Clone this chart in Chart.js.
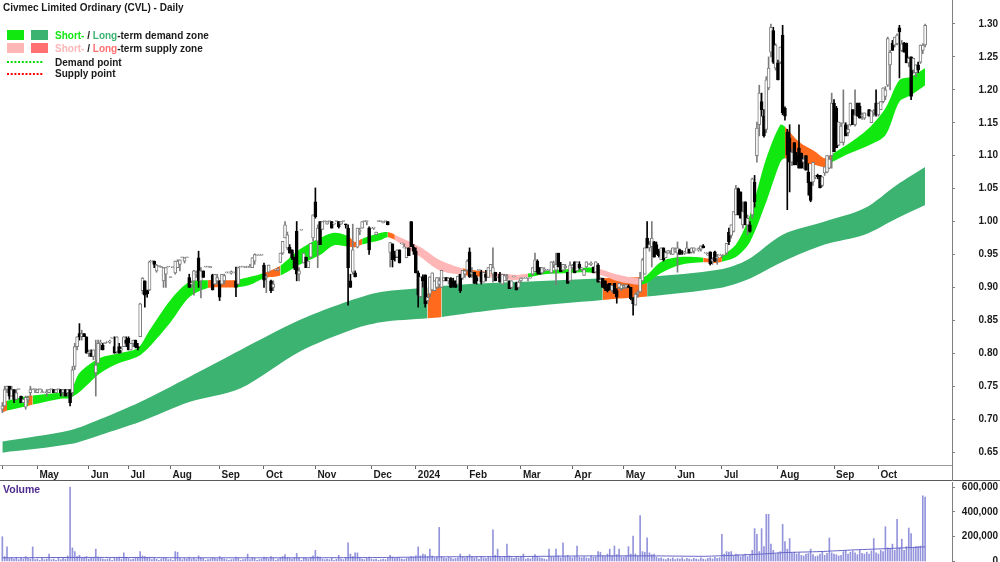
<!DOCTYPE html>
<html>
<head>
<meta charset="utf-8">
<script src="https://cdn.jsdelivr.net/npm/chart.js@4.4.1/dist/chart.umd.min.js"></script>
<style>
  html, body { margin: 0; padding: 0; background: #fff; overflow: hidden; }
  #wrap { position: relative; width: 1000px; height: 562px; }
  #price { position: absolute; left: 0; top: 0; }
  #vol { position: absolute; left: 0; top: 481px; }
</style>
</head>
<body>
<div id="wrap">
  <canvas id="price" width="1000" height="481"></canvas>
  <canvas id="vol" width="1000" height="81"></canvas>
</div>
<script>
// daily bars, prices in cents, one entry per trading day (Apr 2023 - Oct 2024)
var opens = [
  71.5, 72, 74.5, 75, 73.5, 74.5, 73, 74.5, 73.5, 72.5,
  71.8, 73, 74, 74.5, 74.5, 74, 74.5, 74, 74, 74,
  74, 74.5, 74.5, 74, 74.5, 74.5, 74, 74.5, 74, 74.5,
  74, 78, 81, 83, 82.5, 83, 82.5, 80, 80, 79.5,
  77, 78.5, 81.5, 81.2, 81.5, 81.7, 81.7, 82.3, 81, 80.2,
  81, 80.5, 81, 82, 82.3, 80.5, 81.5, 82, 81, 82.5,
  89.5, 91, 89.5, 89.6, 94, 94, 92.5, 93.2, 93, 91,
  92, 93.1, 91.5, 93, 92.2, 93, 93.5, 94.5, 94, 94.5,
  91.5, 90.5, 91, 92, 94.5, 91, 92.5, 93.1, 93.1, 93,
  91.9, 90.5, 91, 91, 90.5, 91, 92.2, 92.2, 92.2, 92.2,
  91, 90.5, 93.1, 93.1, 93, 93.1, 93, 93, 94, 94.9,
  94.9, 94.9, 93.4, 91.5, 92.3, 91, 90, 92.6, 92.6, 93.8,
  95.2, 97.5, 96, 96.1, 95.7, 94.6, 98.5, 92, 98.7, 93.7,
  94.6, 93, 94.6, 97.5, 103, 97, 100, 98.8, 100, 99.6,
  100, 100, 99.6, 100, 100, 99.6, 100, 99.6, 99, 91,
  92.3, 92.2, 96.1, 98.5, 99, 100, 100, 99, 99, 99,
  98, 100, 100, 99.8, 100, 100, 95.3, 96.6, 95, 94.6,
  95.7, 96.6, 96, 94.5, 96, 100, 96.1, 95.5, 92.2, 88.6,
  91.6, 91.9, 88, 89, 89.6, 89.5, 90, 90.5, 90, 91,
  91.5, 91, 91.4, 91, 91, 90.5, 92, 91.4, 92, 92.6,
  95.4, 92, 92.3, 91.5, 92.6, 92.3, 90.8, 92, 91.5, 92.5,
  92, 92.3, 91.5, 92, 90.5, 91, 91.5, 91, 90, 91.6,
  90.6, 90, 91, 91.4, 91.4, 91.4, 91.4, 92, 92.4, 94,
  93, 92.2, 92.6, 92.6, 92.6, 92.2, 93.5, 92.6, 95.2, 93.5,
  92.6, 93, 92.3, 91, 93, 93.9, 92.5, 93.5, 92.8, 91.8,
  93.1, 93.5, 93.5, 93.1, 92.3, 93.4, 91, 91.4, 91, 90,
  90.6, 89.5, 90.6, 89.5, 90, 89.8, 90, 90, 90.2, 90,
  88.3, 87.3, 89, 89.3, 91, 92, 97.5, 96, 96.2, 96.9,
  96.5, 95.5, 94.2, 96, 94.5, 95.2, 95.3, 95, 95.5, 95.2,
  95.7, 95.4, 95.2, 95.2, 95.8, 95.3, 95.5, 95.7, 95.7, 95.8,
  96.3, 95.2, 94.9, 95.4, 94, 95.4, 94.5, 94.9, 94.9, 94.9,
  95.2, 98.4, 97.9, 98.5, 101, 105, 104.5, 99.5, 103, 99.5,
  99.5, 101, 106, 110, 114.7, 118.2, 116, 114, 120.3, 125.7,
  129, 123.3, 124.1, 124.2, 128.3, 117.2, 113.6, 112.7, 109, 112,
  110, 111.2, 110.4, 109, 110, 107.5, 106, 106, 106.8, 107,
  107, 105.5, 107.4, 107.5, 108.1, 110, 118, 117.2, 111.6, 112,
  112, 114.7, 113.5, 114.7, 117, 114.7, 118, 117.5, 116, 115.7,
  116.2, 117, 115, 116.5, 118, 116.2, 117, 118.2, 119, 120.7,
  123.8, 127.1, 126.8, 127, 129.4, 126, 127.1, 127.1, 124.1, 125,
  123, 122.6, 123.8, 124.2, 126, 126.8
];
var highs = [
  72.5, 75, 75, 75, 75, 74.5, 74.5, 74.5, 73.5, 73,
  73.5, 73.5, 75, 74.5, 74.5, 74.5, 74.5, 74.5, 74, 74.5,
  74.5, 74.5, 74.5, 74.5, 74.5, 74.5, 74.5, 74.5, 74.5, 74.5,
  78, 81.5, 82.5, 84.5, 83.5, 83, 82.5, 80.5, 80.5, 80.5,
  82, 82, 82, 81.5, 81.5, 81.7, 82, 82.3, 82.5, 82.5,
  81.5, 81, 82.5, 82.5, 82.5, 81.5, 82, 82, 81.5, 87.6,
  91.5, 91, 89.6, 94, 94, 94, 93.5, 93.2, 93.2, 93,
  93, 93.1, 91.5, 93, 94, 94.2, 94.2, 94.5, 94.5, 94.5,
  92, 91, 92.6, 92.5, 95.5, 93, 92.5, 93.1, 93.1, 93.2,
  92, 92, 92, 91, 92, 92, 92.2, 92.2, 92.5, 92.2,
  93.1, 93.1, 93.1, 93.1, 93.1, 93.1, 93.5, 94.5, 95.1, 94.9,
  94.9, 95, 93.7, 92, 93.4, 91.1, 91, 92.6, 93, 95.2,
  97, 100, 98.4, 96.5, 95.7, 94.6, 100, 93, 98.7, 95.2,
  94.6, 94, 96.7, 101, 105.1, 99.5, 100, 100, 100, 100,
  100, 100, 99.6, 100, 100, 100, 100, 99.6, 99.5, 92,
  99.6, 92.5, 99, 99, 100, 100, 100, 99.2, 99, 99,
  98.4, 100, 100, 100, 100, 100, 96.8, 96.6, 95.5, 95.7,
  95.7, 96.6, 96.6, 96, 96, 100, 96.5, 96, 92.5, 91.6,
  91.9, 91.9, 89, 91.6, 92.2, 91, 91.5, 91.5, 92.6, 91.5,
  91.5, 91.5, 91.5, 91.4, 91, 91.7, 92, 92.6, 92.6, 94.2,
  96, 93, 92.3, 91.8, 92.6, 92.6, 92.3, 92.6, 93, 93.5,
  96, 92.3, 91.5, 92.3, 92, 92, 92, 91, 91, 91.6,
  90.8, 91, 91.4, 91.4, 91.4, 91.5, 91.4, 93, 95.2, 94.2,
  93, 93, 93, 92.6, 92.6, 93.9, 94, 95.2, 95.2, 93.8,
  93.5, 93.5, 92.3, 93.9, 93.5, 93.9, 93.9, 93.9, 93, 92.7,
  93.9, 93.5, 93.9, 93.1, 93.9, 93.6, 91.5, 91.4, 91, 90.5,
  90.6, 90.3, 90.6, 89.8, 90.6, 90.4, 90.5, 90.4, 90.4, 90,
  88.5, 89.1, 89.5, 92.3, 94.4, 96, 100, 97, 100, 97,
  96.9, 95.8, 96, 96, 95.5, 95.6, 95.6, 96, 96, 96.9,
  95.8, 95.6, 95.5, 96.9, 95.8, 96, 96, 95.7, 96, 96.3,
  96.5, 95.2, 95.2, 95.4, 94.5, 95.5, 95, 94.9, 95, 94.9,
  96.7, 99, 99.5, 101.5, 105.5, 105.1, 104.5, 103, 103, 101,
  100, 106.6, 107, 115.1, 120.7, 119.5, 117, 122, 125, 130,
  129.5, 127, 124.5, 126.5, 129.8, 117.4, 114, 114.7, 111, 112,
  110.5, 114.7, 110.4, 110, 110, 108.8, 106, 109, 107, 107.2,
  107, 106.8, 108.3, 110, 110, 119.5, 118.5, 117.5, 115.1, 115,
  120, 115, 114.7, 118, 117, 120, 118, 118, 116.5, 116.5,
  116.2, 117, 116.8, 117, 120, 118, 118.2, 120.3, 120.5, 128,
  126, 127.5, 128, 128.5, 129.8, 127.5, 127.2, 127.1, 125, 125,
  124.8, 123.8, 124.2, 126.8, 127, 130
];
var lows = [
  71, 72, 74, 73, 73.5, 72.5, 73, 74.5, 72.5, 72.5,
  71.5, 72.5, 73.5, 74.5, 74, 74, 74.5, 74, 74, 73.5,
  74, 74.5, 74, 74, 74.5, 73.5, 73.5, 73.5, 73.5, 72,
  73.5, 77.5, 80.5, 82, 82, 82.5, 80, 79.5, 79.5, 79,
  73.5, 78.5, 80.5, 80.5, 81.5, 81.7, 81.5, 82.3, 80, 80,
  80, 80, 81, 81, 80.5, 80.5, 81, 80.8, 80.5, 82.5,
  89, 87, 88.5, 89.5, 94, 93, 92.3, 93.2, 93, 90,
  90, 93.1, 91.5, 93, 92, 93, 92.5, 94.5, 93.7, 94.5,
  90, 90, 88.8, 91.5, 90, 88.4, 91.5, 93.1, 93.1, 93,
  89.6, 90.5, 90.5, 88, 90.5, 90.5, 92.2, 92.2, 92, 92.2,
  88.6, 90.4, 93.1, 93.1, 93, 93.1, 93, 93, 93.5, 94.9,
  94.9, 94.9, 90, 89.2, 92.3, 89.2, 89.5, 92.6, 92.5, 93.8,
  95, 97.5, 95.7, 95.2, 94.2, 92.7, 91, 91, 98.7, 93.7,
  93, 93, 94.5, 97, 100.5, 93, 96.5, 98.8, 100, 99.6,
  100, 99, 99.6, 100, 99, 99.6, 100, 99, 87.3, 90,
  92, 91.6, 96, 98, 99, 100, 99.5, 95, 99, 98.8,
  98, 100, 100, 99.8, 100, 99.5, 93.1, 93.1, 94, 94.5,
  93.7, 96.6, 96, 94.5, 94.8, 96.2, 95, 92.2, 87, 88.5,
  90, 87, 87.5, 88.5, 89.5, 89.5, 89.8, 90, 90, 91,
  91, 90.5, 90, 90, 90, 90.5, 89.2, 91.2, 91.5, 92.5,
  91.5, 91.5, 90.6, 90.5, 92.6, 90.5, 90.8, 91, 91.5, 92.5,
  90.8, 91, 91.5, 90.8, 90.5, 91, 91, 89.8, 89.8, 91.6,
  89.6, 89.8, 90.8, 91.4, 91.4, 91, 91.4, 91.8, 92.4, 92,
  92, 92, 92.4, 92.6, 92.6, 92.2, 93, 90.4, 93.1, 92.4,
  92.5, 92.8, 90.6, 91, 92.8, 92.2, 92.5, 92.8, 92.5, 91.8,
  93, 93.5, 93.3, 92.2, 92.3, 90.8, 90.5, 90, 89.5, 89.3,
  89.6, 89.3, 89.1, 87.6, 89.8, 89.5, 89.8, 89.8, 90, 88.1,
  85.8, 87.3, 88.5, 89.3, 91, 92, 96, 95.5, 93.1, 94.6,
  95, 94.6, 94.2, 94, 94.5, 95.2, 95, 95, 95.3, 92.3,
  95, 95, 95, 95.2, 95.2, 95.2, 95.2, 95.7, 95.5, 95.5,
  96, 95.2, 94.9, 93.4, 93.5, 93.9, 93.5, 94.9, 94.5, 94.9,
  95, 96.5, 97.5, 98.4, 101, 101, 100.5, 99, 99.5, 98,
  98.4, 100.5, 102.2, 109, 113, 116, 112.8, 113.5, 120, 125,
  124, 123, 121.5, 124, 116.2, 115.4, 101.8, 104.5, 108.5, 108.6,
  108.6, 108.1, 108.1, 108, 107.8, 104, 103, 105.5, 106.5, 106.5,
  105.1, 105.3, 107, 107.4, 108, 108.1, 110.6, 111.2, 111.5, 112,
  111.6, 113, 113, 114.5, 114.7, 114.5, 116, 115.7, 115.5, 115.5,
  116.2, 116, 115, 116, 116, 116, 117, 118, 118.5, 120.5,
  120, 126, 126.5, 126.8, 121.8, 125.8, 125.7, 124.1, 123.5, 118.5,
  122.5, 122, 122.6, 124, 125.5, 126.5
];
var closes = [
  72, 74.5, 75, 73.5, 74.5, 73, 74, 74.5, 72.5, 73,
  73.3, 73, 74.5, 74.5, 74.5, 74.5, 74.5, 74, 74, 74,
  74.5, 74.5, 74, 74.5, 74.5, 74, 74.5, 73.5, 74.5, 72.5,
  77.5, 81, 82.5, 82.5, 83, 82.5, 80, 80, 79.5, 80.5,
  78.2, 81.5, 81.5, 80.5, 81.5, 81.7, 81.7, 82.3, 80, 82.5,
  80, 80.5, 82.5, 81.5, 80.5, 81.5, 82, 81, 80.8, 87.5,
  91.4, 88.8, 89, 93.9, 94, 93.5, 93.4, 93.2, 93, 93,
  93, 93.1, 91.5, 93, 94, 94, 94.2, 94.5, 94.5, 94.5,
  90, 90.5, 92.5, 92, 91, 92.5, 91.5, 93.1, 93.1, 93,
  89.6, 92, 91.5, 88.5, 92, 91.8, 92.2, 92.2, 92.2, 92.2,
  90, 93, 93.1, 93.1, 93.1, 93.1, 93.1, 94.5, 95, 94.9,
  94.9, 94.9, 91.1, 91.5, 93.4, 89.5, 90.5, 92.6, 92.6, 95.2,
  97, 99.5, 98, 95.2, 94.5, 93, 92, 92.5, 98.7, 95.2,
  93, 94, 96.7, 101, 100.7, 99, 96.5, 100, 100, 100,
  100, 99, 99.6, 100, 99.2, 100, 100, 99.5, 93, 90,
  95.7, 91.6, 99, 98.5, 100, 100, 100, 95.7, 99, 99,
  98.4, 100, 100, 100, 100, 99.5, 96.8, 94.2, 94.5, 95.7,
  93.7, 96.6, 96, 96, 94.8, 96.2, 95.5, 92.2, 88.8, 91.6,
  91, 87.5, 88.5, 91.6, 92.2, 91, 91.5, 91, 92.6, 91.5,
  91, 91.4, 90, 90.2, 90, 91.7, 89.5, 92.6, 92.5, 94,
  91.6, 92.3, 90.6, 91, 92.6, 90.8, 92.3, 91.5, 93, 93.5,
  93, 91, 91.5, 90.8, 92, 91.8, 91.5, 89.8, 91, 91.6,
  89.6, 90.8, 91.4, 91.4, 91.4, 91.4, 91.4, 93, 94.2, 92.3,
  92, 93, 92.6, 92.6, 92.6, 93.9, 93.5, 93.5, 93.1, 92.4,
  93.5, 93.2, 90.6, 93.4, 93.3, 92.2, 93.9, 93, 92.8, 92.7,
  93.9, 93.5, 93.6, 92.2, 93.9, 90.8, 91, 90, 89.8, 89.5,
  89.6, 90.3, 89.1, 88.5, 90.6, 90.4, 90.2, 90.4, 90, 88.3,
  87.5, 89, 89.3, 91.4, 94.2, 96, 96, 96.5, 97.5, 94.6,
  95.2, 94.8, 96, 94.2, 95.3, 95.6, 95.4, 96, 95.8, 96,
  95, 95.2, 95.3, 96, 95.2, 96, 96, 95.7, 95.8, 96.3,
  96, 95.2, 95, 93.6, 94.3, 94, 94.5, 94.9, 94.9, 94.9,
  96.7, 96.9, 99.5, 101.5, 105, 101, 100.5, 101.5, 99.5, 100.5,
  98.5, 106.5, 103, 114.2, 119.5, 117, 113, 121.5, 123.3, 129.5,
  124.2, 126.8, 121.5, 126.5, 116.5, 116, 110.1, 109, 110.5, 108.6,
  109, 108.1, 108.1, 109.5, 107.8, 105.9, 103.2, 109, 106.8, 106.8,
  105.1, 106.8, 108.3, 110, 109.5, 118, 110.6, 111.2, 115.1, 114.5,
  115, 113, 114, 118, 114.7, 116.2, 116, 115.7, 116.2, 116.5,
  116.2, 116, 116.8, 116.8, 116.2, 118, 118.2, 120.3, 120, 127.8,
  125.7, 126, 128, 128.3, 128.8, 127, 125.7, 124.1, 124.8, 119,
  124.8, 123.8, 123, 126.8, 126.8, 129.8
];
// volume in thousands of shares
var volumes = [
  200, 40, 118, 25, 30, 20, 35, 15, 30, 20,
  40, 25, 20, 118, 15, 20, 10, 25, 15, 20,
  60, 15, 20, 10, 25, 15, 30, 20, 45, 600,
  110, 80, 40, 50, 30, 25, 40, 20, 30, 25,
  100, 35, 30, 20, 15, 20, 25, 10, 30, 25,
  35, 20, 70, 30, 25, 15, 20, 35, 25, 80,
  45, 40, 30, 35, 15, 25, 20, 10, 20, 30,
  25, 15, 20, 10, 80, 75, 30, 15, 25, 20,
  35, 20, 30, 15, 45, 30, 25, 10, 15, 20,
  30, 25, 20, 40, 25, 20, 15, 10, 15, 20,
  35, 25, 10, 15, 20, 60, 15, 30, 25, 10,
  15, 20, 35, 30, 20, 40, 25, 10, 20, 30,
  40, 55, 30, 25, 20, 30, 65, 25, 10, 30,
  25, 20, 35, 45, 90, 40, 35, 20, 15, 20,
  15, 25, 10, 20, 50, 20, 15, 30, 150, 60,
  40, 70, 70, 30, 20, 15, 25, 35, 20, 15,
  20, 10, 15, 20, 15, 25, 50, 35, 25, 30,
  30, 20, 15, 25, 30, 40, 35, 45, 118, 45,
  60, 55, 40, 100, 45, 30, 35, 275, 40, 30,
  25, 35, 30, 20, 25, 30, 60, 35, 30, 40,
  55, 40, 30, 35, 20, 40, 30, 25, 35, 30,
  255, 50, 100, 40, 30, 35, 140, 45, 30, 25,
  40, 30, 35, 60, 20, 25, 20, 35, 55, 40,
  30, 25, 20, 15, 100, 40, 35, 100, 45, 30,
  150, 40, 50, 35, 30, 40, 125, 35, 30, 40,
  30, 25, 45, 35, 40, 80, 75, 45, 40, 60,
  100, 45, 125, 55, 100, 40, 35, 45, 120, 60,
  205, 60, 45, 370, 80, 75, 190, 70, 55, 60,
  35, 25, 30, 20, 15, 25, 20, 30, 15, 25,
  20, 30, 15, 25, 20, 15, 25, 20, 15, 30,
  20, 15, 25, 30, 20, 35, 25, 30, 220, 60,
  80, 75, 80, 45, 60, 55, 40, 50, 60, 40,
  55, 90, 265, 220, 80, 265, 120, 380, 380, 140,
  90, 60, 70, 80, 300, 160, 100, 185, 70, 75,
  60, 70, 50, 45, 60, 65, 100, 55, 40, 45,
  60, 80, 50, 65, 190, 70, 60, 55, 45, 50,
  80, 90, 60, 75, 85, 70, 55, 90, 65, 60,
  75, 60, 85, 185, 70, 60, 90, 80, 280, 110,
  100, 140, 90, 340, 110, 180, 90, 120, 270, 225,
  110, 120, 120, 125, 530, 520
];

// volume moving average, read at a few bars (thousands)
var volAvgBars = [0, 40, 80, 120, 160, 190, 220, 250, 280, 300, 310, 325, 335, 350, 365, 380, 395];
var volAvg = [30, 33, 30, 30, 32, 38, 40, 45, 45, 42, 48, 60, 72, 80, 94, 105, 118];

// month boundaries (bar number) and their labels
var monthBars = [0, 15, 37, 54, 72, 93, 112, 134, 158, 177, 199, 222, 244, 266, 288, 308, 332, 356, 375];
var monthNames = ['', 'May', 'Jun', 'Jul', 'Aug', 'Sep', 'Oct', 'Nov', 'Dec', '2024', 'Feb', 'Mar', 'Apr', 'May', 'Jun', 'Jul', 'Aug', 'Sep', 'Oct'];

var priceTicks = [65, 70, 75, 80, 85, 90, 95, 100, 105, 110, 115, 120, 125, 130];
var volTicks = [0, 200, 400, 600];

// short-term zone: bar, upper, lower edge (cents), state of the zone after that bar
var shortBars = [0, 2, 11, 13, 25, 29, 33, 42, 50, 58, 63, 72, 80, 88, 95, 100, 106, 112, 119, 127,
  136, 142, 148, 151, 154, 162, 165, 168, 179, 187, 197, 209, 220, 225, 232, 243, 253, 264, 273, 276,
  282, 290, 300, 305, 308, 314, 320, 327, 333, 335, 341, 348, 352, 355, 363, 371, 378, 384, 389, 395];
var shortTop = [72.6, 72.8, 73.5, 73.6, 74, 74.1, 77, 79.3, 80, 80.8, 83.5, 88.1, 90.8, 91.1, 91.1, 91.1, 91.6, 92.2, 93.3, 95.7,
  97.5, 98.3, 97.8, 96.9, 97.4, 98.3, 98.4, 98, 96.1, 94.2, 92.9, 92.3, 91.9, 92.1, 92.5, 92.8, 93, 91.9, 91.4, 91.9,
  93.9, 94.6, 94.5, 94.2, 94.8, 96.5, 101, 109.6, 114.7, 114.4, 112.1, 110.6, 109.6, 110.2, 112, 114.2, 117.2, 121.5, 122, 123.3];
var shortBot = [71, 71.3, 72, 72.2, 73.1, 73.2, 74.1, 77, 78.5, 79.5, 81, 84.7, 88.5, 89.9, 90, 90, 90.4, 91.4, 91.8, 93.4,
  94.9, 96.4, 96.2, 96.1, 96.5, 97.2, 97.6, 97.2, 94.6, 92.6, 91.9, 91.5, 91.1, 91.5, 92, 92.2, 92.2, 90.9, 90.4, 90.7,
  92.2, 93.4, 93.8, 93.7, 93.9, 94.6, 96.9, 103, 109, 109.6, 109, 108.6, 108.3, 109, 110.4, 111.6, 113.1, 118.2, 119.2, 120.7];
var shortState = ['s', 'd', 's', 'd', 'd', 'd', 'd', 'd', 'd', 'd', 'd', 'd', 'd', 's', 's', 'd', 'd', 's', 'd', 'd',
  'd', 'd', 's', 's', 'd', 'd', 's', 'w', 'w', 'w', 's', 'w', 'w', 'd', 'd', 'd', 'w', 'w', 'd', 'd',
  'd', 'd', 's', 's', 'd', 'd', 'd', 'd', 'd', 's', 's', 's', 's', 'd', 'd', 'd', 'd', 'd', 'd', 'd'];

// long-term zone
var longBars = [0, 29, 42, 59, 80, 102, 127, 149, 162, 182, 188, 200, 219, 257, 276, 307, 319, 334, 352, 369, 383, 395];
var longTop = [66.6, 68.3, 70, 72.6, 76.4, 80.5, 85, 88, 89.3, 90, 90.2, 90.5, 90.8, 91.4, 91.6, 92.7, 94.2, 98, 100, 102, 105.6, 108.3];
var longBot = [64.9, 66.2, 67.6, 69.6, 72.6, 74.7, 80.2, 83.5, 84.7, 85.3, 85.5, 86.1, 86.9, 88.1, 88.6, 89.9, 91.2, 93.9, 96.5, 98, 100.5, 102.5];
var longState = ['d', 'd', 'd', 'd', 'd', 'd', 'd', 'd', 'd', 's', 'd', 'd', 'd', 's', 'd', 'd', 'd', 'd', 'd', 'd', 'd', 'd'];

var FONT = '"Liberation Sans", Arial, sans-serif';
var col = {
  upFill: '#ffffff', upLine: '#7c7c7c', down: '#000000',
  shortDemand: '#10e810', longDemand: '#3cb371',
  supply: '#ff6a1c', weakSupply: '#ffb6b6', longSupplyKey: '#ff7070',
  volBar: '#9494dc', volAvg: '#6464c8', axis: '#808080', text: '#1a1a1a'
};

function pts(bars, vals) {
  return bars.map(function(b, k) { return {x: b, y: vals[k]}; });
}
function zoneColor(state, demand) {
  if (state === 's') return col.supply;
  if (state === 'w') return col.weakSupply;
  return demand;
}
function isUp(i) { return closes[i] >= opens[i]; }

var bodies = closes.map(function(c, i) { return {x: i, y: [opens[i], c]}; });
var wicks = closes.map(function(c, i) { return {x: i, y: [lows[i], highs[i]]}; });

function zoneSets(bars, top, bot, state, demand, order) {
  return [
    {type: 'line', data: pts(bars, bot), borderColor: 'rgba(0,0,0,0)', pointRadius: 0, tension: 0.3, fill: false, order: order},
    {type: 'line', data: pts(bars, top), borderColor: 'rgba(0,0,0,0)', pointRadius: 0, tension: 0.3, fill: '-1',
      backgroundColor: demand, order: order,
      segment: {
        backgroundColor: function(c) { return zoneColor(state[c.p0DataIndex], demand); },
        borderColor: function() { return 'rgba(0,0,0,0)'; }
      }}
  ];
}

var xScale = {
  type: 'linear', min: -1, max: 406.5, offset: false,
  grid: {offset: false, drawOnChartArea: false, tickLength: 4, color: '#666'},
  border: {color: '#9a9a9a'},
  afterBuildTicks: function(s) { s.ticks = monthBars.map(function(v) { return {value: v}; }); },
  afterFit: function(s) { s.height = 16; s.paddingLeft = 0; s.paddingRight = 0; },
  ticks: {
    autoSkip: false, maxRotation: 0, align: 'start', labelOffset: 2, padding: 0,
    color: col.text, font: {family: FONT, size: 10, weight: 'bold'},
    callback: function(v, i) { return monthNames[i]; }
  }
};

var overlay = {
  id: 'overlay',
  afterDraw: function(chart) {
    var ctx = chart.ctx, a = chart.chartArea;
    ctx.save();
    ctx.font = 'bold 10px ' + FONT;
    ctx.textBaseline = 'alphabetic';
    ctx.fillStyle = col.text;
    ctx.fillText('Civmec Limited Ordinary (CVL) - Daily', 3, 11);

    function parts(list, x, y) {
      list.forEach(function(p) {
        ctx.fillStyle = p[1];
        ctx.fillText(p[0], x, y);
        x += ctx.measureText(p[0]).width;
      });
    }
    ctx.fillStyle = col.shortDemand; ctx.fillRect(7, 30, 17, 10);
    ctx.fillStyle = col.longDemand; ctx.fillRect(31, 30, 17, 10);
    parts([['Short-', col.shortDemand], [' / ', col.text], ['Long', col.longDemand], ['-term demand zone', col.text]], 55, 39);
    ctx.fillStyle = col.weakSupply; ctx.fillRect(7, 43, 17, 10);
    ctx.fillStyle = col.longSupplyKey; ctx.fillRect(31, 43, 17, 10);
    parts([['Short-', col.weakSupply], [' / ', col.text], ['Long', col.longSupplyKey], ['-term supply zone', col.text]], 55, 52);

    ctx.lineWidth = 2;
    ctx.setLineDash([2, 1.7]);
    ctx.strokeStyle = '#00dd00';
    ctx.beginPath(); ctx.moveTo(7, 62); ctx.lineTo(44, 62); ctx.stroke();
    ctx.strokeStyle = '#ff0000';
    ctx.beginPath(); ctx.moveTo(7, 74); ctx.lineTo(44, 74); ctx.stroke();
    ctx.setLineDash([]);
    ctx.fillStyle = col.text;
    ctx.fillText('Demand point', 55, 66);
    ctx.fillText('Supply point', 55, 77);

    // frame of the date row
    ctx.lineWidth = 1;
    ctx.strokeStyle = '#5a5a5a';
    ctx.beginPath(); ctx.moveTo(0, 480.5); ctx.lineTo(1000, 480.5); ctx.stroke();
    ctx.strokeStyle = col.axis;
    ctx.beginPath(); ctx.moveTo(Math.round(a.right) + 0.5, a.bottom); ctx.lineTo(Math.round(a.right) + 0.5, 481); ctx.stroke();
    ctx.restore();
  }
};

new Chart(document.getElementById('price'), {
  type: 'bar',
  data: {
    datasets: [
      {type: 'bar', data: bodies, order: 0, grouped: false, barThickness: 3, minBarLength: 1,
        borderWidth: 1, borderSkipped: false,
        backgroundColor: function(c) { return isUp(c.dataIndex) ? col.upFill : col.down; },
        borderColor: function(c) { return isUp(c.dataIndex) ? col.upLine : col.down; }},
      {type: 'bar', data: wicks, order: 1, grouped: false, barThickness: 1,
        backgroundColor: function(c) { return isUp(c.dataIndex) ? col.upLine : col.down; }}
    ].concat(
      zoneSets(shortBars, shortTop, shortBot, shortState, col.shortDemand, 10),
      zoneSets(longBars, longTop, longBot, longState, col.longDemand, 12)
    )
  },
  options: {
    responsive: false, animation: false, events: [],
    layout: {padding: {top: 0, left: 0, right: 2, bottom: 0}},
    plugins: {legend: {display: false}, tooltip: {enabled: false}},
    scales: {
      x: xScale,
      y: {
        position: 'right', min: 63.03, max: 133.64,
        grid: {drawOnChartArea: false, tickLength: 3, color: col.axis},
        border: {color: col.axis},
        afterBuildTicks: function(s) { s.ticks = priceTicks.map(function(v) { return {value: v}; }); },
        afterFit: function(s) { s.width = 46; s.paddingTop = 0; s.paddingBottom = 0; },
        ticks: {
          crossAlign: 'far', padding: 0, color: col.text,
          font: {family: FONT, size: 10, weight: 'bold'},
          callback: function(v) { return (v / 100).toFixed(2); }
        }
      }
    }
  },
  plugins: [overlay]
});

var volLabel = {
  id: 'volLabel',
  afterDraw: function(chart) {
    var ctx = chart.ctx;
    ctx.save();
    ctx.font = 'bold 10.5px ' + FONT;
    ctx.fillStyle = '#4d2a8c';
    ctx.fillText('Volume', 3, 12);
    ctx.restore();
  }
};

new Chart(document.getElementById('vol'), {
  type: 'bar',
  data: {
    datasets: [
      {type: 'line', data: pts(volAvgBars, volAvg), borderColor: col.volAvg, borderWidth: 1, pointRadius: 0, tension: 0.2, order: 0},
      {type: 'bar', data: volumes.map(function(v, i) { return {x: i, y: v}; }), order: 1, grouped: false,
        barThickness: 1, backgroundColor: col.volBar}
    ]
  },
  options: {
    responsive: false, animation: false, events: [],
    layout: {padding: {top: 1, left: 0, right: 2, bottom: 0}},
    plugins: {legend: {display: false}, tooltip: {enabled: false}},
    scales: {
      x: {type: 'linear', min: -1, max: 406.5, offset: false, display: false},
      y: {
        position: 'right', min: -4, max: 641,
        grid: {drawOnChartArea: false, tickLength: 3, color: col.axis},
        border: {color: col.axis},
        afterBuildTicks: function(s) { s.ticks = volTicks.map(function(v) { return {value: v}; }); },
        afterFit: function(s) { s.width = 46; s.paddingTop = 0; s.paddingBottom = 0; },
        ticks: {
          crossAlign: 'far', padding: 0, color: col.text,
          font: {family: FONT, size: 10, weight: 'bold'},
          callback: function(v) { return (v * 1000).toLocaleString('en-US'); }
        }
      }
    }
  },
  plugins: [volLabel]
});
</script>
</body>
</html>
